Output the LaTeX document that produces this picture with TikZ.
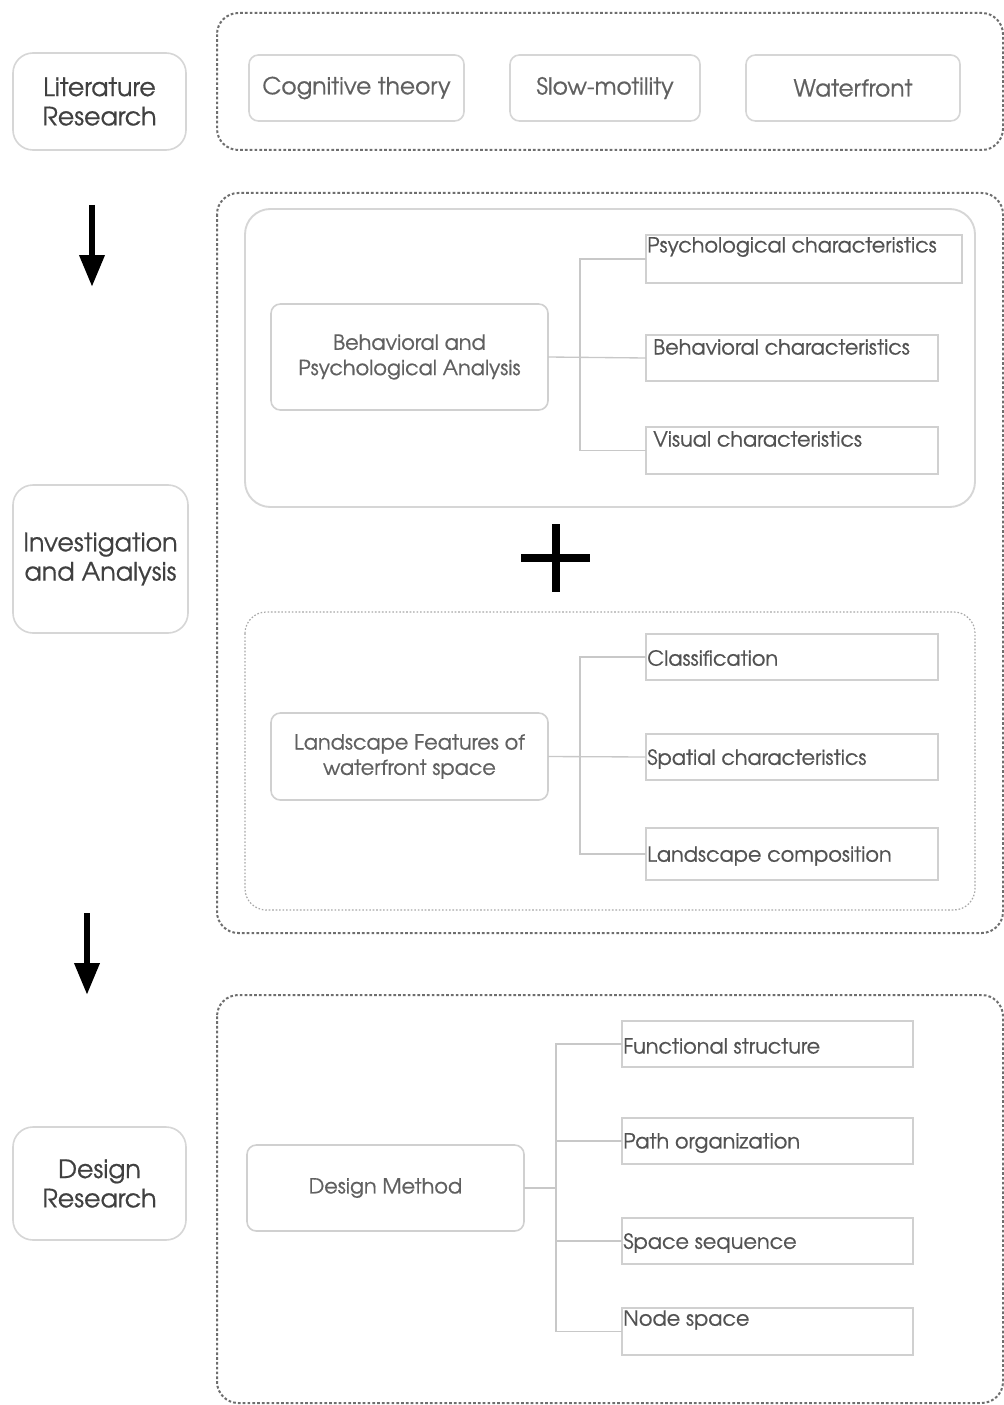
\documentclass[tikz,border=0pt]{standalone}
\usepackage{fontspec}
\setmainfont{TeX Gyre Adventor}
\newfontfamily\gfont{TeX Gyre Adventor}[FakeBold=0.6]
\usetikzlibrary{arrows.meta}
\definecolor{lbl}{HTML}{404040}
\definecolor{sidegray}{HTML}{D6D6D6}
\definecolor{txtgray}{HTML}{606060}
\definecolor{boxgray}{HTML}{D0D0D0}
\definecolor{linegray}{HTML}{C8C8C8}
\definecolor{dashgray}{HTML}{6E6E6E}
\definecolor{dotgray}{HTML}{A8A8A8}
\newcommand\pxu{0.75pt}
\begin{document}
\begin{tikzpicture}[x=0.75pt,y=-0.75pt,
  side/.style={draw=sidegray, line width=1.2pt, rounded corners=15pt, inner sep=0pt, outer sep=0pt, anchor=north west, align=center, text=lbl, font=\gfont\fontsize{19}{22}\selectfont},
  topbox/.style={draw=sidegray, line width=1.2pt, rounded corners=7pt, inner sep=0pt, outer sep=0pt, anchor=north west, align=center, text=txtgray, font=\gfont\fontsize{17.5}{20}\selectfont},
  midbox/.style={draw=boxgray, line width=1.2pt, rounded corners=7pt, inner sep=0pt, outer sep=0pt, anchor=north west, align=center, text=txtgray, font=\gfont\fontsize{15.6}{19}\selectfont},
  charbox/.style={draw=boxgray, line width=1.3pt, inner sep=0pt, outer sep=0pt, anchor=north west},
  chartext/.style={anchor=west, inner sep=0pt, text=txtgray!85!black, font=\gfont\fontsize{15.6}{18}\selectfont},
  outerdash/.style={draw=dashgray, line width=1.5pt, dash pattern=on 2pt off 1.6pt, rounded corners=16pt},
  innerdot/.style={draw=dotgray, line width=0.9pt, dash pattern=on 1.2pt off 1.4pt, rounded corners=16pt},
  innersolid/.style={draw=sidegray, line width=1.4pt, rounded corners=19pt},
  conn/.style={draw=linegray, line width=1pt},
  bigarrow/.style={draw=black, line width=5pt, -{Triangle[width=18pt,length=24pt]}},
]
\useasboundingbox (0,0) rectangle (1003,1405);
\fill[white] (0,0) rectangle (1003,1405);

% outer containers
\draw[outerdash] (217,13) rectangle (1003,150);
\draw[outerdash] (217,193) rectangle (1003,933);
\draw[outerdash] (217,995) rectangle (1003,1403);
\draw[innersolid] (245,209) rectangle (975,507);
\draw[innerdot] (245,612) rectangle (975,910);

% left column
\node[side, minimum width=173*\pxu, minimum height=97*\pxu] (lit) at (13,53) {Literature\\Research};
\node[side, minimum width=175*\pxu, minimum height=148*\pxu] (inv) at (13,485) {Investigation\\and Analysis};
\node[side, minimum width=173*\pxu, minimum height=113*\pxu] (des) at (13,1127) {Design\\Research};

\coordinate (a1s) at (92,205);
\coordinate (a1e) at (92,287);
\coordinate (a2s) at (87,913);
\coordinate (a2e) at (87,995);
\draw[bigarrow] (a1s) -- (a1e);
\draw[bigarrow] (a2s) -- (a2e);

% top row
\node[topbox, minimum width=215*\pxu, minimum height=66*\pxu] (cog) at (249,55) {Cognitive theory};
\node[topbox, minimum width=190*\pxu, minimum height=66*\pxu] (slow) at (510,55) {Slow-motility};
\node[topbox, minimum width=214*\pxu, minimum height=66*\pxu] (wat) at (746,55) {Waterfront};

% group 1
\node[midbox, minimum width=277*\pxu, minimum height=106*\pxu] (bpa) at (271,304) {Behavioral and\\Psychological Analysis};
\node[charbox, minimum width=316*\pxu, minimum height=48*\pxu] (psy) at (646,235) {};
\node[charbox, minimum width=292*\pxu, minimum height=46*\pxu] (beh) at (646,335) {};
\node[charbox, minimum width=292*\pxu, minimum height=47*\pxu] (vis) at (646,427) {};
\node[chartext] (psyt) at (647,247) {Psychological characteristics};
\node[chartext] (beht) at (653,347) {Behavioral characteristics};
\node[chartext] (vist) at (653,439) {Visual characteristics};
\draw[conn] (psy.west) -- ++(-66,0) |- (vis.west);
\draw[conn] (bpa.east) -- (beh.west);

% plus
\draw[line width=6pt] (521,558) -- (590,558);
\draw[line width=6pt] (556,524) -- (556,592);

% group 2
\node[midbox, minimum width=277*\pxu, minimum height=87*\pxu] (lfw) at (271,713) {Landscape Features of\\waterfront space};
\node[charbox, minimum width=292*\pxu, minimum height=46*\pxu] (cls) at (646,634) {};
\node[charbox, minimum width=292*\pxu, minimum height=46*\pxu] (spa) at (646,734) {};
\node[charbox, minimum width=292*\pxu, minimum height=52*\pxu] (lco) at (646,828) {};
\node[chartext] (clst) at (647,658) {Classification};
\node[chartext] (spat) at (647,759) {Spatial characteristics};
\node[chartext] (lcot) at (647,856) {Landscape composition};
\draw[conn] (cls.west) -- ++(-66,0) |- (lco.west);
\draw[conn] (lfw.east) -- (spa.west);

% group 3
\node[midbox, minimum width=277*\pxu, minimum height=86*\pxu] (dm) at (247,1145) {Design Method};
\node[charbox, minimum width=291*\pxu, minimum height=46*\pxu] (fun) at (622,1021) {};
\node[charbox, minimum width=291*\pxu, minimum height=46*\pxu] (pat) at (622,1118) {};
\node[charbox, minimum width=291*\pxu, minimum height=46*\pxu] (spq) at (622,1218) {};
\node[charbox, minimum width=291*\pxu, minimum height=47*\pxu] (nsp) at (622,1308) {};
\node[chartext] (funt) at (623,1046) {Functional structure};
\node[chartext] (patt) at (623,1143) {Path organization};
\node[chartext] (spqt) at (623,1243) {Space sequence};
\node[chartext] (nspt) at (623,1320) {Node space};
\draw[conn] (fun.west) -- ++(-66,0) |- (nsp.west);
\draw[conn] (pat.west) -- ++(-66,0);
\draw[conn] (spq.west) -- ++(-66,0);
\draw[conn] (dm.east) -- ++(32,0);
\end{tikzpicture}
\end{document}
